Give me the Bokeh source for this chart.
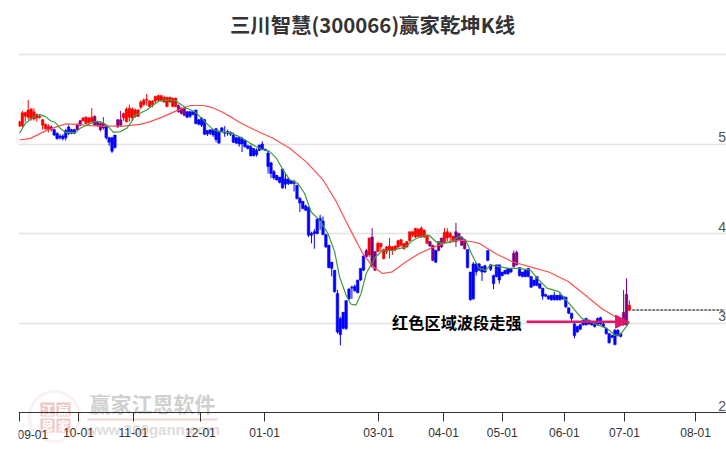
import numpy as np
from bokeh.plotting import figure
from bokeh.models import FixedTicker, Label, Arrow, NormalHead, PolyAnnotation, ColumnDataSource
from bokeh.embed import file_html
from bokeh.resources import INLINE

title_text = "三川智慧(300066)赢家乾坤K线"
note_text = "红色区域波段走强"
tick_pos = [0, 20.4, 39.4, 62.6, 84.8, 124.2, 146.7, 167.0, 188.5, 209.3, 233.9]
tick_labels = ["09-01", "10-01", "11-01", "12-01", "01-01", "03-01", "04-01", "05-01", "06-01", "07-01", "08-01"]
y_ticks = [5, 4, 3, 2]

kinds = list("r" * 11 + "p" + "b" * 8 + "pp" + "r" * 4 + "p" * 4 + "b" * 4 + "pp" + "r" * 19 + "p" * 3 + "b" * 18
             + "b" * 44 + "prpp" + "r" * 18 + "ppbpp" + "r" * 4 + "p" * 4 + "b" * 5
             + "b" * 11 + "pp" + "b" * 36 + "ppr")

highs = [
 5.26,5.37,5.36,5.49,5.40,5.40,5.34,5.33,5.28,5.23,5.22,5.21,5.17,5.13,5.11,5.11,5.17,5.21,5.17,5.17,
 5.23,5.27,5.30,5.31,5.30,5.40,5.32,5.26,5.24,5.30,5.21,5.08,5.08,5.10,5.28,5.37,5.35,5.41,5.44,5.41,
 5.40,5.39,5.49,5.51,5.56,5.49,5.49,5.54,5.55,5.55,5.54,5.53,5.53,5.52,5.52,5.44,5.41,5.40,5.37,5.37,
 5.36,5.38,5.28,5.30,5.28,5.15,5.16,5.17,5.18,5.15,5.19,5.20,5.16,5.14,5.13,5.08,
 5.08,5.08,5.05,4.99,4.99,4.95,4.95,4.99,5.03,4.95,4.93,4.80,4.71,4.65,4.63,4.73,4.67,4.63,4.59,4.60,
 4.54,4.41,4.36,4.32,4.30,4.02,4.05,4.17,4.21,4.19,3.99,3.87,3.68,3.59,3.37,3.07,3.12,3.25,3.39,3.42,
 3.43,3.48,3.61,3.75,3.83,3.95,4.06,3.80,3.91,3.89,3.83,3.86,3.95,3.86,3.87,3.93,3.94,3.89,3.91,4.02,
 4.02,4.06,4.05,4.08,4.04,3.99,3.91,3.87,3.82,3.91,3.95,4.06,4.06,4.02,3.97,4.12,4.01,3.97,3.93,3.82,
 3.57,3.68,3.68,3.67,
 3.63,3.65,3.81,3.66,3.54,3.65,3.65,3.57,3.59,3.61,3.61,3.81,3.81,3.62,3.57,3.59,3.61,3.52,3.48,3.52,
 3.44,3.39,3.32,3.31,3.31,3.35,3.31,3.34,3.30,3.29,3.17,3.11,3.00,2.97,2.99,3.04,3.06,3.04,3.02,3.02,
 3.06,3.07,3.00,2.95,2.89,2.87,2.93,2.93,2.89,3.37,3.50,3.25]
body_tops = [
 5.25,5.35,5.35,5.38,5.39,5.36,5.33,5.31,5.27,5.22,5.20,5.19,5.16,5.12,5.09,5.09,5.15,5.19,5.16,5.16,
 5.22,5.26,5.29,5.30,5.29,5.30,5.31,5.25,5.23,5.23,5.20,5.07,5.07,5.10,5.27,5.27,5.34,5.39,5.40,5.39,
 5.38,5.38,5.47,5.49,5.50,5.48,5.48,5.53,5.54,5.54,5.52,5.52,5.52,5.51,5.51,5.43,5.40,5.40,5.36,5.36,
 5.36,5.38,5.27,5.29,5.27,5.15,5.16,5.16,5.17,5.14,5.18,5.13,5.14,5.13,5.10,5.07,
 5.07,5.06,5.04,4.98,4.97,4.95,4.93,4.99,5.00,4.94,4.90,4.79,4.69,4.65,4.63,4.72,4.61,4.61,4.59,4.58,
 4.54,4.39,4.36,4.31,4.29,4.00,4.02,4.16,4.17,4.14,3.99,3.87,3.68,3.59,3.33,3.05,3.12,3.25,3.38,3.40,
 3.41,3.48,3.61,3.75,3.81,3.95,3.96,3.80,3.89,3.89,3.82,3.85,3.86,3.85,3.86,3.92,3.93,3.89,3.91,4.02,
 4.02,4.06,4.05,4.06,4.04,3.98,3.91,3.87,3.81,3.91,3.95,4.01,4.02,4.00,3.97,4.02,4.00,3.96,3.93,3.82,
 3.57,3.66,3.66,3.66,
 3.63,3.64,3.81,3.65,3.53,3.65,3.65,3.57,3.59,3.61,3.61,3.78,3.79,3.62,3.57,3.59,3.61,3.52,3.48,3.52,
 3.44,3.39,3.32,3.30,3.31,3.31,3.31,3.31,3.30,3.29,3.17,3.11,2.99,2.96,2.98,3.03,3.05,3.03,3.01,3.01,
 3.05,3.06,2.99,2.94,2.88,2.86,2.92,2.92,2.88,3.12,3.32,3.20]
body_bottoms = [
 5.20,5.20,5.31,5.30,5.28,5.28,5.29,5.30,5.21,5.17,5.16,5.16,5.10,5.06,5.07,5.06,5.07,5.12,5.12,5.12,
 5.16,5.21,5.26,5.23,5.24,5.25,5.21,5.21,5.16,5.18,5.07,5.02,4.92,4.96,5.19,5.21,5.29,5.25,5.30,5.29,
 5.31,5.31,5.41,5.44,5.49,5.42,5.44,5.48,5.49,5.49,5.47,5.42,5.47,5.42,5.42,5.36,5.34,5.32,5.30,5.31,
 5.33,5.23,5.22,5.21,5.11,5.11,5.12,5.10,5.05,5.01,5.14,5.12,5.12,5.11,5.02,5.01,
 5.00,5.00,4.97,4.95,4.87,4.87,4.88,4.93,4.94,4.93,4.75,4.67,4.62,4.60,4.57,4.51,4.55,4.56,4.56,4.56,
 4.39,4.34,4.28,4.26,3.98,3.98,4.00,4.00,4.14,3.99,3.85,3.62,3.61,3.35,2.90,2.87,2.94,2.94,3.27,3.39,
 3.36,3.34,3.48,3.59,3.74,3.76,3.63,3.59,3.80,3.85,3.72,3.80,3.81,3.81,3.82,3.85,3.87,3.83,3.85,3.92,
 3.98,3.96,3.97,3.96,3.96,3.89,3.86,3.70,3.68,3.81,3.85,3.90,3.95,3.96,3.91,3.91,3.93,3.87,3.83,3.62,
 3.26,3.27,3.57,3.59,
 3.57,3.57,3.70,3.60,3.44,3.52,3.48,3.53,3.55,3.55,3.57,3.63,3.65,3.53,3.52,3.52,3.52,3.40,3.42,3.42,
 3.39,3.30,3.30,3.27,3.26,3.26,3.26,3.26,3.27,3.18,3.11,3.05,2.86,2.90,2.93,2.98,2.98,2.99,2.98,2.96,
 2.98,2.99,2.96,2.88,2.78,2.84,2.76,2.86,2.85,2.98,2.98,3.14]
lows = [
 5.19,5.19,5.25,5.27,5.26,5.26,5.25,5.28,5.16,5.16,5.13,5.14,5.09,5.05,5.05,5.04,5.04,5.10,5.11,5.11,
 5.15,5.20,5.25,5.22,5.22,5.24,5.20,5.19,5.14,5.16,5.05,4.98,4.90,4.95,5.18,5.19,5.26,5.24,5.25,5.26,
 5.29,5.30,5.39,5.42,5.43,5.41,5.41,5.46,5.48,5.47,5.46,5.41,5.46,5.41,5.41,5.35,5.33,5.31,5.29,5.29,
 5.32,5.22,5.21,5.19,5.10,5.09,5.10,5.08,5.02,5.00,5.13,5.08,5.09,5.09,5.01,5.00,
 4.97,4.91,4.96,4.94,4.86,4.86,4.86,4.92,4.93,4.92,4.67,4.62,4.60,4.59,4.56,4.50,4.50,4.54,4.55,4.47,
 4.38,4.24,4.27,4.25,3.96,3.89,3.83,3.99,4.04,3.98,3.84,3.61,3.52,3.34,2.88,2.75,2.93,2.92,3.26,3.27,
 3.35,3.33,3.47,3.58,3.73,3.74,3.62,3.58,3.79,3.80,3.71,3.77,3.72,3.76,3.80,3.83,3.85,3.82,3.84,3.91,
 3.96,3.95,3.96,3.95,3.95,3.88,3.85,3.69,3.67,3.80,3.84,3.89,3.91,3.89,3.90,3.85,3.92,3.86,3.82,3.61,
 3.25,3.26,3.53,3.58,
 3.47,3.56,3.69,3.58,3.38,3.51,3.44,3.52,3.54,3.54,3.56,3.62,3.64,3.52,3.51,3.51,3.51,3.39,3.41,3.41,
 3.38,3.26,3.29,3.26,3.25,3.25,3.25,3.25,3.26,3.17,3.10,3.01,2.83,2.89,2.92,2.97,2.97,2.98,2.97,2.95,
 2.97,2.98,2.95,2.87,2.77,2.83,2.75,2.85,2.84,2.97,2.97,3.14]

green_x = [0,2,3.8,5.5,7.2,9,10.7,12.4,14.1,15.9,17.6,19.3,21,23.3,26.2,27.9,30.2,32.5,34.8,37.1,38.8,40,41.7,44,46.3,48.6,50.9,53.8,55.5,57.8,60.7,62.4,64.7,67,69.3,72.8,
           76.2,79.7,83.1,86.6,88.9,91.2,93.5,96.3,98.6,100.9,103.8,106.7,109,110.7,113,114.7,116.4,118.2,119.9,121.6,123.3,125.6,129,133.7,135.9,138.9,141.7,144,146.3,149.7,152,154.3,156.6,
           159,161.3,163,165.9,169.3,172.8,176.8,179.7,182.5,186.6,188.8,191.7,194.6,199.2,203.2,206.1,207.8,209.5,211]
green_y = [5.12,5.23,5.276,5.313,5.33,5.306,5.26,5.24,5.175,5.13,5.13,5.127,5.175,5.213,5.25,5.25,5.213,5.13,5.138,5.175,5.25,5.325,5.343,5.38,5.436,5.485,5.492,5.485,5.45,5.40,5.36,5.306,5.23,5.16,5.138,5.127,
           5.08,5.01,4.95,4.915,4.84,4.71,4.60,4.56,4.45,4.24,4.15,4.0,3.80,3.52,3.31,3.21,3.2,3.33,3.55,3.65,3.74,3.81,3.81,3.85,3.92,3.97,3.98,3.91,3.89,3.91,3.97,3.93,3.76,
           3.61,3.59,3.65,3.63,3.61,3.61,3.59,3.48,3.39,3.35,3.27,3.16,3.05,2.99,2.94,2.86,2.87,2.94,3.01]
red_x = [0,3.8,8.4,13,15.9,19.9,24.5,29.1,36,41.7,45.2,49.8,54.4,59,63.6,66.4,69.9,73.3,76.2,
         81.4,87.7,93.5,99.2,105,109.6,114.2,118.7,122.2,125.6,129,133.7,138.3,143,147.5,152.1,156.6,
         159,164.7,170.5,176.3,183.1,190,195.8,201.5,207.2,211]
red_y = [5.045,5.063,5.138,5.194,5.224,5.22,5.205,5.20,5.20,5.22,5.25,5.306,5.373,5.43,5.43,5.41,5.36,5.30,5.24,
         5.157,5.064,4.952,4.80,4.60,4.355,4.057,3.78,3.63,3.553,3.572,3.684,3.777,3.845,3.897,3.927,3.908,
         3.89,3.777,3.684,3.63,3.57,3.46,3.31,3.16,3.05,3.01]
last_price = 3.145
note_price = 3.015

colour_of = {"r": "#ff0000", "b": "#0000ff", "p": "#800080"}
PX = 2.89

p = figure(width=726, height=450, frame_width=708, frame_height=410,
           x_range=(-0.35, 244.6), y_range=(2 - 38 / 89.5, 6 + 14 / 89.5),
           output_backend="svg", toolbar_location=None, tools="",
           min_border_left=18, min_border_right=0, min_border_top=40, min_border_bottom=0,
           background_fill_color="white", border_fill_color="white", outline_line_color=None)

p.title.text = title_text
p.title.align = "center"
p.title.text_font = "Noto Sans CJK SC"
p.title.text_font_size = "20.4px"
p.title.text_font_style = "bold"
p.title.text_color = "#333333"
p.title.standoff = 3

p.yaxis.visible = False
p.xgrid.visible = False
p.ygrid.ticker = FixedTicker(ticks=[3, 4, 5, 6])
p.ygrid.grid_line_color = "#e4e4e4"
p.ygrid.grid_line_width = 1.5

ax = p.xaxis[0]
ax.fixed_location = 2
ax.ticker = FixedTicker(ticks=tick_pos)
ax.major_label_overrides = {t: ("" if i == 0 else l) for i, (t, l) in enumerate(zip(tick_pos, tick_labels))}
ax.major_tick_in = 0
ax.major_tick_out = 9
ax.minor_tick_line_color = None
ax.axis_line_color = "#333333"
ax.major_tick_line_color = "#333333"
ax.major_label_text_font = "Liberation Sans"
ax.major_label_text_font_size = "12px"
ax.major_label_text_color = "#333333"
ax.major_label_standoff = 6

# watermark, kept under the axis and its labels
t = np.linspace(0, 2 * np.pi, 80)
p.add_layout(PolyAnnotation(xs=list(54 + 25 * np.cos(t)), ys=list(416 + 25 * np.sin(t)),
                            xs_units="canvas", ys_units="canvas", fill_alpha=0, level="underlay",
                            line_color="#f0d0d0", line_width=3))
for sx, sy in [(40, 402), (56, 402), (40, 418), (56, 418)]:
    p.add_layout(PolyAnnotation(xs=[sx, sx + 14, sx + 14, sx], ys=[sy, sy, sy + 14, sy + 14],
                                xs_units="canvas", ys_units="canvas", level="underlay",
                                fill_color="#f0c6c6", fill_alpha=1, line_color=None))
for ch, sx, sy in [("江", 47, 409), ("赢", 63, 409), ("恩", 47, 425), ("家", 63, 425)]:
    p.add_layout(Label(x=sx, y=sy, x_units="canvas", y_units="canvas", text=ch, text_color="white", level="underlay",
                       text_font="Noto Sans CJK SC", text_font_size="12px", text_font_style="bold",
                       text_align="center", text_baseline="middle"))
p.add_layout(Label(x=152, y=402, x_units="canvas", y_units="canvas", text="赢家江恩软件", text_color="#d0d0d0",
                   level="underlay", text_font="Noto Sans CJK SC", text_font_size="21px", text_font_style="bold",
                   text_align="center", text_baseline="middle"))
p.add_layout(PolyAnnotation(xs=[87, 217, 217, 87], ys=[418, 418, 420, 420], xs_units="canvas", ys_units="canvas",
                            level="underlay", fill_color="#f2d4d4", fill_alpha=1, line_color=None))
p.add_layout(Label(x=152, y=429, x_units="canvas", y_units="canvas", text="www.360gann.com", text_color="#dddddd",
                   level="underlay", text_font="Liberation Sans", text_font_size="15px", text_font_style="bold",
                   text_align="center", text_baseline="middle"))

# candles
idx = list(range(len(highs)))
src = ColumnDataSource(dict(x=idx, hi=highs, lo=lows, top=body_tops, bot=body_bottoms,
                            c=[colour_of[k] for k in kinds]))
p.segment("x", "lo", "x", "hi", color="c", line_width=1, source=src)
p.vbar(x="x", top="top", bottom="bot", width=0.9, fill_color="c", line_color="c", line_width=0.5, source=src)

p.line(red_x, red_y, line_color="#ff5050", line_width=1.2)
p.line(green_x, green_y, line_color="#3f9a3f", line_width=1.2)
p.line([idx[-1] + 1, 244], [last_price, last_price], line_color="black", line_width=1, line_dash="3 1")

# right-hand value labels
p.text(x=[244.4] * len(y_ticks), y=y_ticks, text=[str(v) for v in y_ticks], text_align="right",
       text_baseline="middle", y_offset=-7, text_font_size="14px", text_color="#555555",
       text_font={"value": "Liberation Sans"})

# note
p.text(x=[(521 - 19) / PX], y=[note_price], text=[note_text], text_align="right", text_baseline="middle",
       text_font={"value": "Noto Sans CJK SC"}, text_font_size="16.2px", text_font_style="bold", text_color="black")
p.add_layout(Arrow(x_start=(526 - 19) / PX, x_end=(628 - 19) / PX, y_start=note_price, y_end=note_price,
                   line_color="#e0186c", line_width=2.5,
                   end=NormalHead(size=13, fill_color="#e0186c", line_color="#e0186c")))

# first tick label sits to the right of its tick
p.add_layout(Label(x=17, y=434, x_units="canvas", y_units="canvas", text=tick_labels[0], text_color="#333333",
                   text_font="Liberation Sans", text_font_size="12px", text_baseline="middle"))

open("out.html", "w").write(file_html(p, INLINE))
